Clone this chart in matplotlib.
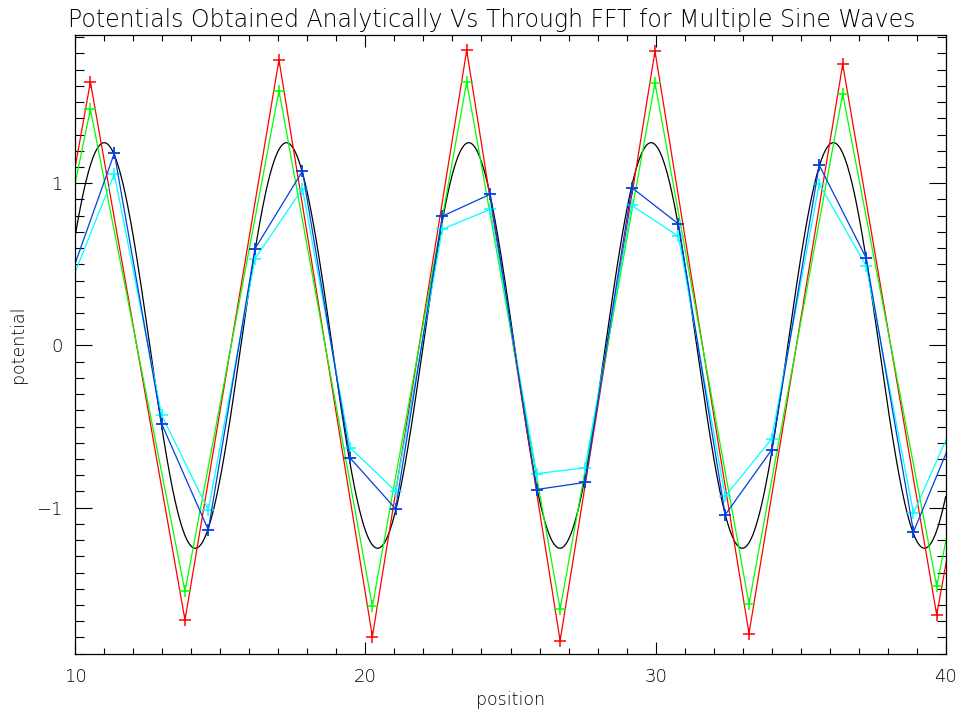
import numpy as np
import matplotlib
matplotlib.use("Agg")
import matplotlib.pyplot as plt
from matplotlib.ticker import MultipleLocator

# Coarse FFT grid (red / green solutions)
coarse_x = [7.28, 10.52, 13.78, 17.02, 20.24, 23.49, 26.71, 29.98, 33.22,
            36.45, 39.69, 42.93]
red_y = [-1.61, 1.624, -1.693, 1.761, -1.795, 1.819, -1.820, 1.814, -1.776,
         1.734, -1.661, 1.56]
green_y = [-1.36, 1.456, -1.515, 1.571, -1.607, 1.624, -1.625, 1.619, -1.593,
           1.551, -1.483, 1.37]

# Fine FFT grid (blue / cyan solutions)
fine_x = [9.725, 11.345, 12.977, 14.585, 16.19, 17.83, 19.47, 21.04, 22.65,
          24.30, 25.90, 27.57, 29.18, 30.79, 32.40, 34.00, 35.64, 37.26,
          38.89, 40.51]
blue_y = [0.37, 1.185, -0.483, -1.137, 0.595, 1.075, -0.693, -1.007, 0.797,
          0.932, -0.888, -0.844, 0.973, 0.749, -1.044, -0.644, 1.112, 0.539,
          -1.149, -0.45]
cyan_y = [0.33, 1.058, -0.430, -1.015, 0.534, 0.966, -0.630, -0.898, 0.717,
          0.839, -0.790, -0.754, 0.863, 0.673, -0.930, -0.576, 0.997, 0.490,
          -1.034, -0.38]

# Analytic potential: phi(x) = -A sin(k x)
amplitude = 1.25
wavenumber = 1.0
x_analytic = np.linspace(10, 40, 1200)
phi_analytic = -amplitude * np.sin(wavenumber * x_analytic)

plt.rcParams["font.family"] = ["DejaVu Sans"]
plt.rcParams["font.weight"] = "light"
plt.rcParams["axes.titleweight"] = "light"
plt.rcParams["axes.labelweight"] = "light"
text_color = "#000000"

fig = plt.figure(figsize=(9.63, 7.13), dpi=100)
ax = fig.add_axes([75.3 / 963, 1 - 653.7 / 713, (945.7 - 75.3) / 963,
                   (653.7 - 35.3) / 713])

lw = 0.9
ax.plot(x_analytic, phi_analytic, color="black", lw=lw)
ax.plot(coarse_x, red_y, color="#ff0000", lw=lw, marker="+", ms=9, mew=1.1)
ax.plot(coarse_x, green_y, color="#00ff00", lw=lw, marker="+", ms=9, mew=1.1)
ax.plot(fine_x, cyan_y, color="#00ffff", lw=lw, marker="+", ms=9, mew=1.1)
ax.plot(fine_x, blue_y, color="#0040e0", lw=lw, marker="+", ms=9, mew=1.3)

ax.set_xlim(10, 40)
ax.set_ylim(-1.900, 1.912)

ax.xaxis.set_major_locator(MultipleLocator(10))
ax.xaxis.set_minor_locator(MultipleLocator(1))
ax.yaxis.set_major_locator(MultipleLocator(1))
ax.yaxis.set_minor_locator(MultipleLocator(0.1))

ax.tick_params(axis="both", which="both", direction="in", top=True,
               right=True, width=0.8, color="black", labelcolor=text_color)
ax.tick_params(axis="x", which="major", length=8.9, pad=10, labelsize=13)
ax.tick_params(axis="x", which="minor", length=4.3)
ax.tick_params(axis="y", which="major", length=12.5, pad=9, labelsize=13)
ax.tick_params(axis="y", which="minor", length=6.3)

for sp in ax.spines.values():
    sp.set_linewidth(0.9)

ax.set_xlabel("position", fontsize=12.5, labelpad=4, color=text_color)
ax.set_ylabel("potential", fontsize=12.5, labelpad=7, color=text_color)
ax.set_title("Potentials Obtained Analytically Vs Through FFT for Multiple Sine Waves",
             fontsize=17, pad=6, x=0.479, color=text_color)

fig.savefig("out.png", dpi=100)
